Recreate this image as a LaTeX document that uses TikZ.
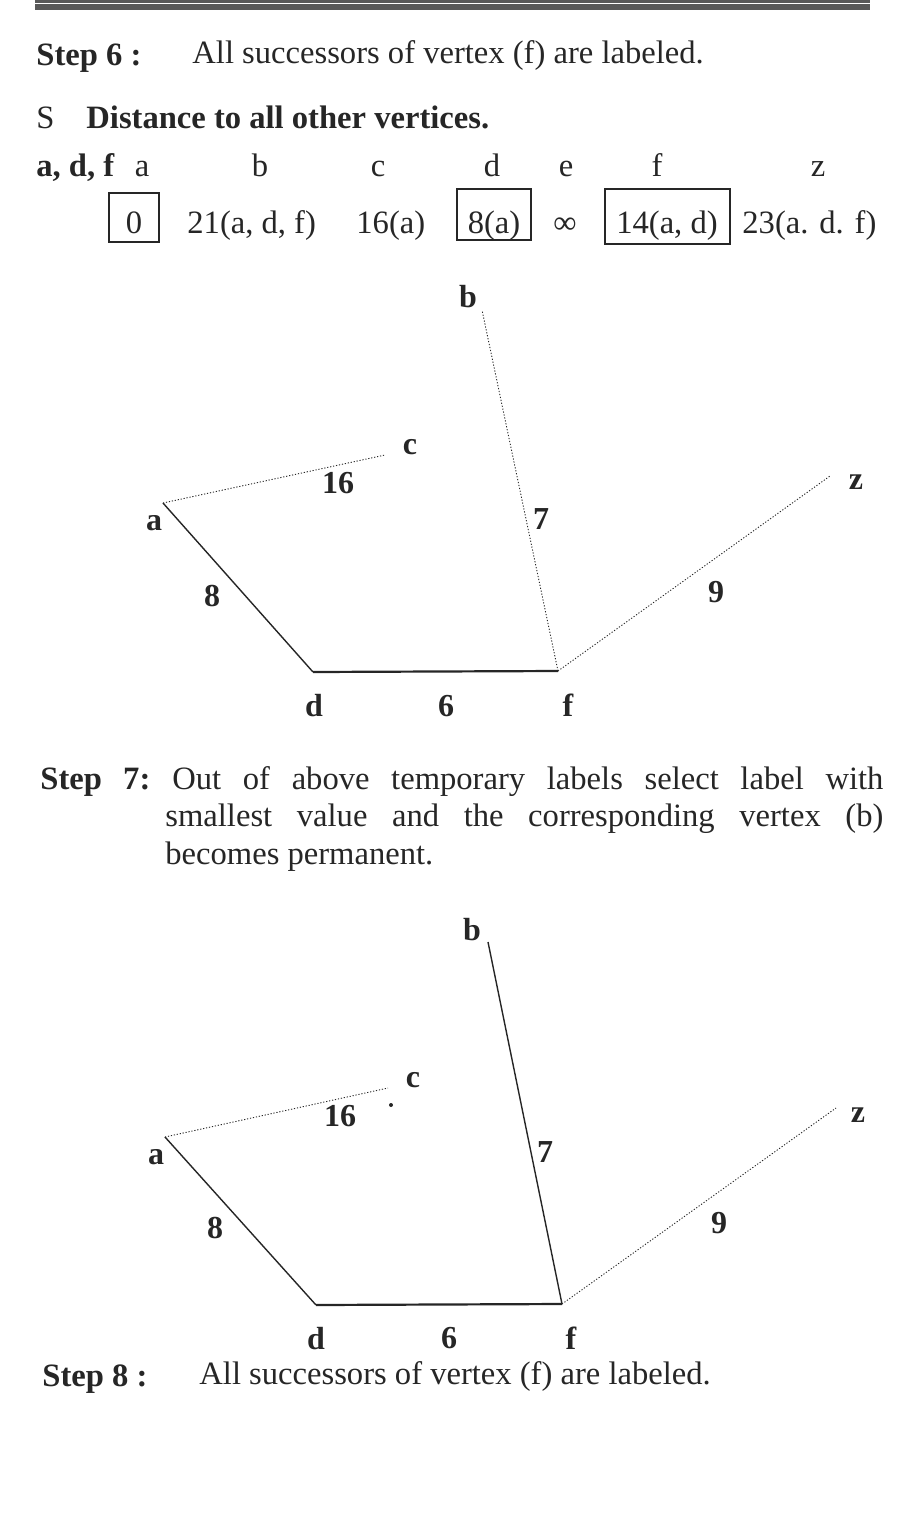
\documentclass[tikz,border=0pt]{standalone}
\usepackage{fontspec}
\setmainfont{Liberation Serif}
\colorlet{ink}{black!85}
\tikzset{
  txt/.style={inner sep=0pt, anchor=base west, text=ink, font=\fontsize{16.3}{19}\selectfont},
  hd/.style={txt, font=\fontsize{16.3}{19}\selectfont\bfseries},
  val/.style={inner sep=0pt, anchor=base, text=ink, font=\fontsize{16.3}{19}\selectfont},
  vlab/.style={inner sep=0pt, text=ink, font=\fontsize{16}{19}\selectfont\bfseries},
  boxed/.style={draw=ink, line width=0.6pt},
  seen/.style={draw=ink, line width=0.7pt},
  tent/.style={draw=ink, line width=0.45pt, dash pattern=on 0.6pt off 0.9pt}
}

\begin{document}
\begin{tikzpicture}[x=0.5pt,y=-0.5pt]
    \useasboundingbox (0,0) rectangle (917,1515);
    \fill[black!65] (35,0) rectangle (870,2.5);
    \fill[black!65] (35,4) rectangle (870,10);

    % step 6 and the labels
    \node[hd] (st6) at (36,65) {Step 6 :};
    \node[txt] (st6t) at (192,63) {All successors of vertex (f) are labeled.};
    \node[txt] (sS) at (36,128) {S};
    \node[hd] (dist) at (86,128) {Distance to all other vertices.};
    \node[hd] (perm) at (36,176) {a, d, f};
    \foreach \n/\x in {a/142, b/260, c/378, d/492, e/566, f/657, z/818}
        \node[val] (h\n) at (\x,176) {\n};
    \node[val] (v0) at (134,233) {0};
    \node[txt] (vb) at (187,233) {21(a, d, f)};
    \node[txt] (vc) at (356,233) {16(a)};
    \node[val] (vd) at (494,233) {8(a)};
    \node[val] (ve) at (565,233) {∞};
    \node[val] (vf) at (667,233) {14(a, d)};
    \node[txt] (vz) at (742,233) {23(a. d. f)};
    \draw[boxed] (109,193) rectangle (159,242);
    \draw[boxed] (457,189) rectangle (531,240);
    \draw[boxed] (605,189) rectangle (730,244);

    % first graph
    \foreach \n/\x/\y in {a/163/503, b/482/310, c/385/455, d/313/672, f/558/671, z/830/476}
        \coordinate (\n1) at (\x,\y);
    \foreach \n/\x/\y in {a/154/523, b/468/297, c/410/447, d/314/706, f/568/705, z/856/482}
        \node[vlab] (l\n1) at (\x,\y) {\n};
    \foreach \w/\x/\y in {16/338/483, 7/541/519, 8/212/596, 9/716/592, 6/446/706}
        \node[vlab] (w\w1) at (\x,\y) {\w};
    \draw[seen] (a1) -- (d1);
    \draw[seen, line width=1.1pt] (d1) -- (f1);
    \draw[tent] (a1) -- (c1);
    \draw[tent] (f1) -- (b1);
    \draw[tent] (f1) -- (z1);

    % step 7
    \node[hd] (st7) at (40,789) {\makebox[55pt][s]{Step 7:}};
    \node[txt] (st7a) at (172,789) {\makebox[355.5pt][s]{Out of above temporary labels select label with}};
    \node[txt] (st7b) at (165,826) {\makebox[359pt][s]{smallest value and the corresponding vertex (b)}};
    \node[txt] (st7c) at (165,864) {becomes permanent.};

    % second graph
    \foreach \n/\x/\y in {a/165/1137, b/488/942, c/388/1088, d/316/1305, f/562/1304, z/836/1108}
        \coordinate (\n2) at (\x,\y);
    \foreach \n/\x/\y in {a/156/1157, b/472/930, c/413/1080, d/316/1339, f/571/1338, z/858/1115}
        \node[vlab] (l\n2) at (\x,\y) {\n};
    \foreach \w/\x/\y in {16/340/1116, 7/545/1152, 8/215/1228, 9/719/1223, 6/449/1338}
        \node[vlab] (w\w2) at (\x,\y) {\w};
    \fill[ink] (391,1105) circle[radius=2];
    \draw[seen] (a2) -- (d2);
    \draw[seen, line width=1.1pt] (d2) -- (f2);
    \draw[seen] (f2) -- (b2);
    \draw[tent] (a2) -- (c2);
    \draw[tent] (f2) -- (z2);

    % step 8
    \node[hd] (st8) at (42,1386) {Step 8 :};
    \node[txt] (st8t) at (199,1384) {All successors of vertex (f) are labeled.};
\end{tikzpicture}
\end{document}
